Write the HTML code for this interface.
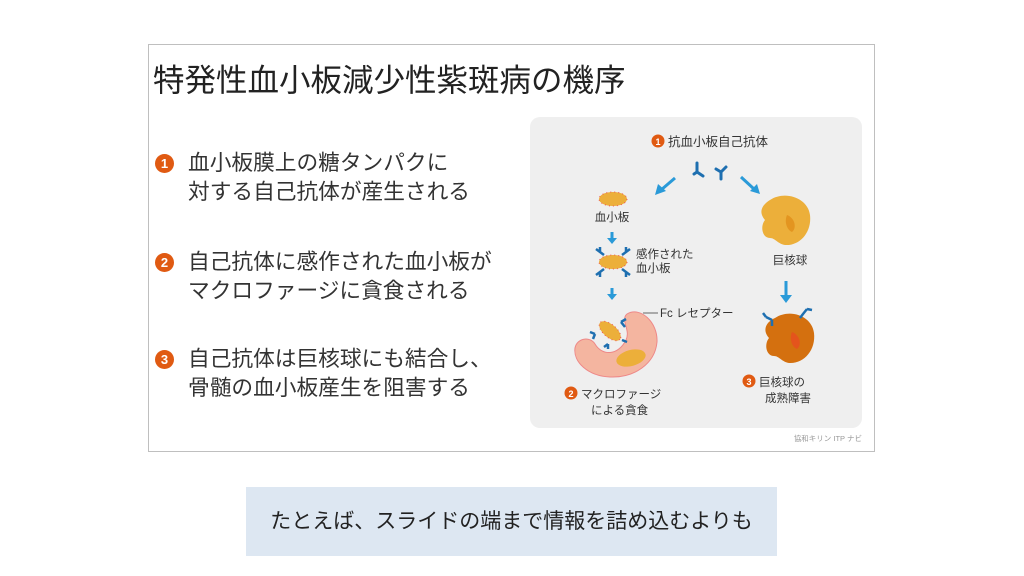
<!DOCTYPE html>
<html><head><meta charset="utf-8"><style>
body{margin:0;width:1024px;height:576px;background:#fff;position:relative;overflow:hidden;font-family:"Liberation Sans","Noto Sans CJK JP",sans-serif;}
.card{position:absolute;left:148px;top:44px;width:727px;height:408px;border:1px solid #bfbfbf;box-sizing:border-box;}
.t{position:absolute;white-space:nowrap;color:#333;}
.n{position:absolute;width:19px;height:19px;border-radius:50%;background:#e05a12;color:#fff;font-size:13px;font-weight:bold;text-align:center;line-height:19px;}
.cap{position:absolute;left:246px;top:487px;width:531px;height:69px;background:#dde7f2;text-align:center;line-height:69px;font-size:21px;color:#222;}
</style></head><body>
<div class="card"></div>
<div class="t" style="left:153px;top:55px;font-size:31.5px;color:#222;">特発性血小板減少性紫斑病の機序</div>
<div class="n" style="left:155px;top:154px;">1</div>
<div class="t" style="left:188px;top:148px;font-size:21.7px;line-height:29px;">血小板膜上の糖タンパクに<br>対する自己抗体が産生される</div>
<div class="n" style="left:155px;top:253px;">2</div>
<div class="t" style="left:188px;top:247px;font-size:21.7px;line-height:29px;">自己抗体に感作された血小板が<br>マクロファージに貪食される</div>
<div class="n" style="left:155px;top:350px;">3</div>
<div class="t" style="left:188px;top:344px;font-size:21.7px;line-height:29px;">自己抗体は巨核球にも結合し、<br>骨髄の血小板産生を阻害する</div>

<svg style="position:absolute;left:0;top:0" width="1024" height="576">
<rect x="530" y="117" width="332" height="311" rx="10" fill="#efefef"/>
<circle cx="658" cy="141" r="6.5" fill="#e05a12"/><text x="658" y="145" font-size="9" fill="#fff" text-anchor="middle" font-weight="bold">1</text>
<text x="668" y="146" font-size="12.5" fill="#333" font-family="Liberation Sans,Noto Sans CJK JP,sans-serif">抗血小板自己抗体</text>
<g stroke="#1e6fb0" stroke-width="3" fill="none" stroke-linecap="round">
<path d="M697 163 L697 172 M697 172 L703 176 M697 172 L694 174"/>
<path d="M721 172 L721 179 M721 172 L716 169 M721 172 L726 167"/>
</g>
<g fill="#2a9ad8" stroke="#2a9ad8">
<line x1="675" y1="178" x2="661" y2="190" stroke-width="3"/><polygon points="655,195 658,184 666,191" stroke="none"/>
<line x1="741" y1="177" x2="754" y2="189" stroke-width="3"/><polygon points="760,194 750,191 757,184" stroke="none"/>
<line x1="612" y1="232" x2="612" y2="239" stroke-width="3"/><polygon points="607,238 617,238 612,244" stroke="none"/>
<line x1="612" y1="288" x2="612" y2="295" stroke-width="3"/><polygon points="607,294 617,294 612,300" stroke="none"/>
<line x1="786" y1="281" x2="786" y2="296" stroke-width="3"/><polygon points="780,295 792,295 786,303" stroke="none"/>
</g>
<ellipse cx="613" cy="199" rx="14" ry="7" fill="#ecaf3a" stroke="#e55" stroke-width="1" stroke-dasharray="1 3"/>
<text x="612" y="221" font-size="11.5" fill="#333" text-anchor="middle">血小板</text>
<ellipse cx="613" cy="262" rx="14" ry="7" fill="#ecaf3a" stroke="#e55" stroke-width="1" stroke-dasharray="1 3"/>
<g stroke="#1e6fb0" stroke-width="2.5" fill="none">
<path d="M600 252 l0 -5 M600 252 l-4 -3 M600 252 l4 3"/><path d="M626 252 l0 -5 M626 252 l4 -3 M626 252 l-4 3"/>
<path d="M600 272 l0 5 M600 272 l-4 3 M600 272 l4 -3"/><path d="M626 272 l0 5 M626 272 l4 3 M626 272 l-4 -3"/>
</g>
<text x="636" y="258" font-size="11.5" fill="#333">感作された</text>
<text x="636" y="272" font-size="11.5" fill="#333">血小板</text>
<path d="M627 314 C640 306 658 322 657 342 C655 364 634 378 610 377 C588 376 573 362 575 348 C577 338 590 336 595 344 C602 356 618 356 626 340 C631 330 620 320 627 314 Z" fill="#f4b5a0" stroke="#e88" stroke-width="1"/>
<ellipse cx="631" cy="358" rx="15" ry="8" fill="#ecaf3a" transform="rotate(-15 631 358)"/>
<ellipse cx="610" cy="331" rx="13" ry="6.5" fill="#ecaf3a" stroke="#e55" stroke-dasharray="1 3" transform="rotate(40 610 331)"/>
<g stroke="#1e6fb0" stroke-width="2.5" fill="none">
<path d="M621 322 l5 -3 M621 322 l4 5"/><path d="M595 334 l-5 -2 M595 334 l-2 5"/><path d="M608 344 l0 5 M608 344 l-4 3"/><path d="M622 340 l5 2"/>
</g>
<line x1="643" y1="313" x2="658" y2="313" stroke="#666" stroke-width="1"/>
<text x="660" y="317" font-size="11.5" fill="#333">Fc レセプター</text>
<circle cx="571" cy="393" r="6.5" fill="#e05a12"/><text x="571" y="397" font-size="9" fill="#fff" text-anchor="middle" font-weight="bold">2</text>
<text x="581" y="398" font-size="11.5" fill="#333">マクロファージ</text>
<text x="591" y="414" font-size="11.5" fill="#333">による貪食</text>
<path d="M770 200 C785 190 808 198 810 215 C812 232 800 246 785 245 C778 244 775 238 770 238 C762 238 760 226 765 220 C758 212 762 205 770 200 Z" fill="#ecaf3a"/>
<path d="M787 215 C795 218 797 228 792 232 C787 230 784 222 787 215 Z" fill="#e39520"/>
<text x="790" y="264" font-size="11.5" fill="#333" text-anchor="middle">巨核球</text>
<path d="M775 318 C790 308 812 316 814 333 C816 350 804 364 789 363 C782 362 779 356 774 356 C766 356 764 344 769 338 C762 330 766 322 775 318 Z" fill="#d4700f"/>
<path d="M792 332 C800 335 802 345 797 349 C792 347 789 339 792 332 Z" fill="#e4541c"/>
<g stroke="#1e6fb0" stroke-width="2.5" fill="none">
<path d="M772 320 l-6 -3 M772 320 l0 6 M766 317 l-3 -4"/><path d="M803 314 l4 -5 M803 314 l-3 4 M807 309 l5 1"/>
</g>
<circle cx="749" cy="381" r="6.5" fill="#e05a12"/><text x="749" y="385" font-size="9" fill="#fff" text-anchor="middle" font-weight="bold">3</text>
<text x="759" y="386" font-size="11.5" fill="#333">巨核球の</text>
<text x="765" y="402" font-size="11.5" fill="#333">成熟障害</text>
<text x="862" y="441" font-size="7.5" fill="#999" text-anchor="end">協和キリン ITP ナビ</text>
</svg>
<div class="cap">たとえば、スライドの端まで情報を詰め込むよりも</div>
</body></html>
